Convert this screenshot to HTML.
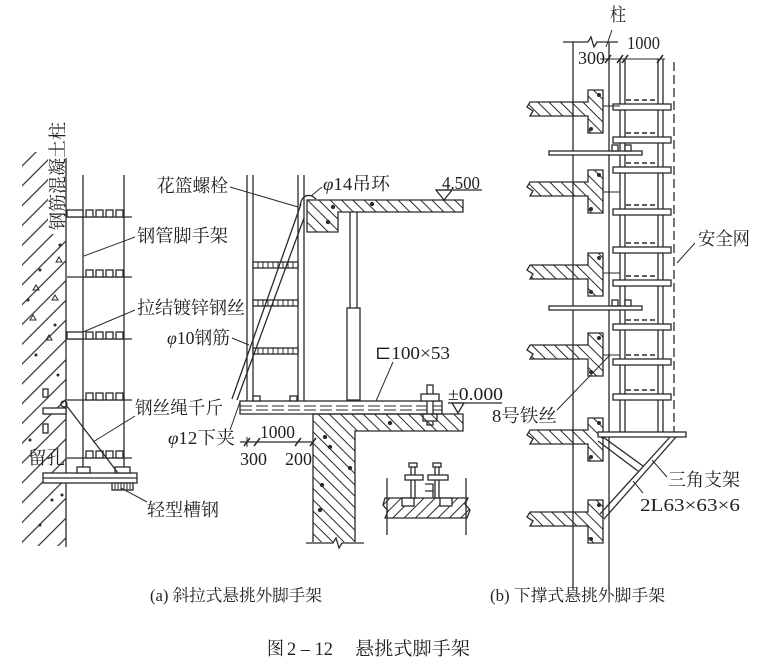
<!DOCTYPE html>
<html><head><meta charset="utf-8">
<style>
html,body{margin:0;padding:0;background:#fff;}
svg{display:block;}
text{font-family:"Liberation Serif","Noto Serif CJK SC","Noto Sans CJK SC","DejaVu Serif",serif;fill:#222;}
</style></head><body>
<svg width="766" height="670" viewBox="0 0 766 670" xmlns="http://www.w3.org/2000/svg">
<defs>
<pattern id="hA" width="14" height="14" patternUnits="userSpaceOnUse" patternTransform="rotate(45)"><line x1="7" y1="0" x2="7" y2="14" stroke="#2a2a2a" stroke-width="1.2"/></pattern>
<pattern id="hB" width="8" height="8" patternUnits="userSpaceOnUse" patternTransform="rotate(-45)"><line x1="4" y1="0" x2="4" y2="8" stroke="#2a2a2a" stroke-width="1"/></pattern>
<pattern id="hC" width="8" height="8" patternUnits="userSpaceOnUse" patternTransform="rotate(45)"><line x1="4" y1="0" x2="4" y2="8" stroke="#2a2a2a" stroke-width="1"/></pattern>
</defs>

<g stroke="#2a2a2a" stroke-width="1.3" fill="none">
<!-- ===== (a) left wall ===== -->
<rect x="22" y="152" width="44" height="394" fill="url(#hA)" stroke="none"/>
<rect x="48" y="118" width="18" height="116" fill="#fff" stroke="none"/>
<line x1="66" y1="158" x2="66" y2="547"/>
<g stroke-width="1" fill="none">
<path d="M33,290 l3,-5 l3,5 z M52,300 l3,-5 l3,5 z M30,320 l3,-5 l3,5 z M46,340 l3,-5 l3,5 z M56,262 l3,-5 l3,5 z"/>
<circle cx="40" cy="270" r="1" fill="#2a2a2a"/><circle cx="28" cy="300" r="1" fill="#2a2a2a"/>
<circle cx="55" cy="325" r="1" fill="#2a2a2a"/><circle cx="36" cy="355" r="1" fill="#2a2a2a"/>
<circle cx="58" cy="375" r="1" fill="#2a2a2a"/><circle cx="30" cy="440" r="1" fill="#2a2a2a"/>
<circle cx="52" cy="500" r="1" fill="#2a2a2a"/><circle cx="40" cy="525" r="1" fill="#2a2a2a"/>
<circle cx="62" cy="495" r="1" fill="#2a2a2a"/><circle cx="60" cy="245" r="1" fill="#2a2a2a"/>
</g>
<rect x="43" y="389" width="5" height="8" fill="#fff"/>
<rect x="43" y="424" width="5" height="9" fill="#fff"/>

<!-- scaffold left -->
<line x1="83" y1="175" x2="83" y2="473"/>
<line x1="124" y1="175" x2="124" y2="473"/>
<g fill="#fff">
<line x1="67" y1="217" x2="132" y2="217"/><rect x="67" y="210" width="16" height="7"/>
<rect x="86" y="210" width="7" height="7"/><rect x="96" y="210" width="7" height="7"/><rect x="106" y="210" width="7" height="7"/><rect x="116" y="210" width="7" height="7"/>
<line x1="67" y1="277" x2="132" y2="277"/>
<rect x="86" y="270" width="7" height="7"/><rect x="96" y="270" width="7" height="7"/><rect x="106" y="270" width="7" height="7"/><rect x="116" y="270" width="7" height="7"/>
<line x1="67" y1="339" x2="132" y2="339"/><rect x="67" y="332" width="16" height="7"/>
<rect x="86" y="332" width="7" height="7"/><rect x="96" y="332" width="7" height="7"/><rect x="106" y="332" width="7" height="7"/><rect x="116" y="332" width="7" height="7"/>
<line x1="67" y1="400" x2="132" y2="400"/>
<rect x="86" y="393" width="7" height="7"/><rect x="96" y="393" width="7" height="7"/><rect x="106" y="393" width="7" height="7"/><rect x="116" y="393" width="7" height="7"/>
<line x1="67" y1="458" x2="132" y2="458"/>
<rect x="86" y="451" width="7" height="7"/><rect x="96" y="451" width="7" height="7"/><rect x="106" y="451" width="7" height="7"/><rect x="116" y="451" width="7" height="7"/>
</g>
<rect x="43" y="473" width="94" height="10" fill="#fff"/>
<line x1="43" y1="478" x2="137" y2="478"/>
<rect x="77" y="467" width="13" height="6" fill="#fff"/>
<rect x="115" y="467" width="15" height="6" fill="#fff"/>
<rect x="112" y="483" width="21" height="7" fill="#fff"/>
<path d="M115,483v7M118,483v7M121,483v7M124,483v7M127,483v7M130,483v7" stroke-width="1"/>
<line x1="66" y1="405" x2="118" y2="473"/>
<rect x="43" y="408" width="23" height="6" fill="#fff"/>
<circle cx="64" cy="404" r="3"/>

<!-- ===== (a) middle ===== -->
<line x1="247" y1="175" x2="247" y2="401"/><line x1="253" y1="175" x2="253" y2="401"/>
<line x1="298" y1="175" x2="298" y2="401"/><line x1="304" y1="175" x2="304" y2="401"/>
<g fill="#fff">
<rect x="253" y="262" width="45" height="6"/><rect x="253" y="300" width="45" height="6"/><rect x="253" y="348" width="45" height="6"/>
</g>
<path d="M258,262v6M263,262v6M268,262v6M273,262v6M278,262v6M283,262v6M288,262v6M293,262v6 M258,300v6M263,300v6M268,300v6M273,300v6M278,300v6M283,300v6M288,300v6M293,300v6 M258,348v6M263,348v6M268,348v6M273,348v6M278,348v6M283,348v6M288,348v6M293,348v6" stroke-width="1"/>

<polygon points="307,200 463,200 463,212 338,212 338,232 307,232" fill="url(#hB)"/>
<circle cx="333" cy="207" r="1.5" fill="#2a2a2a"/><circle cx="372" cy="204" r="1.5" fill="#2a2a2a"/><circle cx="328" cy="222" r="1.5" fill="#2a2a2a"/>
<line x1="350" y1="212" x2="350" y2="308"/><line x1="357" y1="212" x2="357" y2="308"/>
<rect x="347" y="308" width="13" height="92" fill="#fff"/>
<path d="M300,206 Q302,193 312,196 L316,199"/>
<line x1="232" y1="399" x2="301" y2="204"/>
<line x1="237" y1="400" x2="304" y2="218"/>

<rect x="240" y="401" width="202" height="13" fill="#fff"/>
<line x1="240" y1="406" x2="442" y2="406" stroke-dasharray="12 4" stroke-width="1"/>
<line x1="240" y1="410" x2="442" y2="410" stroke-dasharray="12 4" stroke-width="1"/>
<rect x="253" y="396" width="7" height="5" fill="#fff"/><rect x="290" y="396" width="7" height="5" fill="#fff"/>
<rect x="427" y="385" width="6" height="40" fill="#fff"/>
<rect x="421" y="394" width="18" height="7" fill="#fff"/>
<rect x="423" y="414" width="14" height="7" fill="#fff"/>

<polygon points="313,414 463,414 463,431 355,431 355,543 313,543" fill="url(#hB)"/>
<rect x="312" y="542" width="44" height="3" fill="#fff" stroke="none"/>
<path d="M306,543 H333 L336,538 L339,548 L342,543 H364"/>
<circle cx="325" cy="437" r="1.5" fill="#2a2a2a"/><circle cx="330" cy="447" r="1.5" fill="#2a2a2a"/>
<circle cx="350" cy="468" r="1.5" fill="#2a2a2a"/><circle cx="322" cy="485" r="1.5" fill="#2a2a2a"/>
<circle cx="320" cy="510" r="1.5" fill="#2a2a2a"/><circle cx="390" cy="423" r="1.5" fill="#2a2a2a"/>

<line x1="448" y1="403" x2="502" y2="403"/>
<path d="M452,403 L464,403 L458,413 Z"/>
<line x1="436" y1="190" x2="482" y2="190"/>
<path d="M436,190 L452,190 L444,200 Z"/>

<line x1="240" y1="442" x2="313" y2="442"/>
<path d="M244,446 L250,438 M254,446 L260,438 M295,446 L301,438 M310,446 L316,438" stroke-width="1.5"/>
<line x1="247" y1="437" x2="247" y2="447" stroke-width="1"/>
<line x1="313" y1="435" x2="313" y2="449" stroke-width="1"/>

<!-- inset -->
<line x1="387" y1="478" x2="387" y2="535"/><line x1="466" y1="478" x2="466" y2="535"/>
<polygon points="385,498 468,498 465,504 470,510 467,518 385,518 388,511 383,505" fill="url(#hC)"/>
<rect x="402" y="498" width="12" height="8" fill="#fff"/><rect x="440" y="498" width="12" height="8" fill="#fff"/>
<rect x="411" y="465" width="4" height="33" fill="#fff"/><rect x="405" y="475" width="18" height="5" fill="#fff"/><rect x="409" y="463" width="8" height="4" fill="#fff"/>
<rect x="435" y="465" width="4" height="33" fill="#fff"/><rect x="428" y="475" width="20" height="5" fill="#fff"/><rect x="433" y="463" width="8" height="4" fill="#fff"/>
<path d="M425,484 H433 V498 M425,491 H433"/>

<!-- ===== (b) right ===== -->
<line x1="573" y1="42" x2="573" y2="590"/>
<line x1="609" y1="42" x2="609" y2="590"/>
<path d="M563,42 H588 L591,37 L594,47 L597,42 H618"/>
<line x1="612" y1="30" x2="606" y2="47" stroke-width="1"/>
<line x1="600" y1="59" x2="665" y2="59" stroke-width="1"/>
<path d="M605,63 L611,55 M617,63 L623,55 M622,63 L628,55 M657,63 L663,55" stroke-width="1.5"/>

<line x1="620" y1="59" x2="620" y2="433"/><line x1="625" y1="59" x2="625" y2="433"/>
<line x1="658" y1="59" x2="658" y2="433"/><line x1="663" y1="59" x2="663" y2="433"/>
<line x1="674" y1="62" x2="674" y2="433" stroke-dasharray="9 4"/>

<g fill="#fff">
<rect x="613" y="104" width="58" height="6"/><rect x="613" y="137" width="58" height="6"/>
<rect x="613" y="167" width="58" height="6"/><rect x="613" y="209" width="58" height="6"/>
<rect x="613" y="247" width="58" height="6"/><rect x="613" y="280" width="58" height="6"/>
<rect x="613" y="324" width="58" height="6"/><rect x="613" y="359" width="58" height="6"/>
<rect x="613" y="394" width="58" height="6"/>
</g>
<g stroke-dasharray="5 3" stroke-width="1.4">
<line x1="626" y1="100" x2="657" y2="100"/><line x1="626" y1="133" x2="657" y2="133"/>
<line x1="626" y1="163" x2="657" y2="163"/><line x1="626" y1="205" x2="657" y2="205"/>
<line x1="626" y1="243" x2="657" y2="243"/><line x1="626" y1="276" x2="657" y2="276"/>
<line x1="626" y1="320" x2="657" y2="320"/><line x1="626" y1="355" x2="657" y2="355"/>
<line x1="626" y1="390" x2="657" y2="390"/>
</g>

<g fill="url(#hB)">
<polygon points="530,102 588,102 588,90 603,90 603,133 588,133 588,116 530,116 533,111 527,107"/>
<polygon points="530,182 588,182 588,170 603,170 603,213 588,213 588,196 530,196 533,191 527,187"/>
<polygon points="530,265 588,265 588,253 603,253 603,296 588,296 588,279 530,279 533,274 527,270"/>
<polygon points="530,345 588,345 588,333 603,333 603,376 588,376 588,359 530,359 533,354 527,350"/>
<polygon points="530,430 588,430 588,418 603,418 603,461 588,461 588,444 530,444 533,439 527,435"/>
<polygon points="530,512 588,512 588,500 603,500 603,543 588,543 588,526 530,526 533,521 527,517"/>
</g>
<g fill="#2a2a2a" stroke="none">
<circle cx="599" cy="95" r="2"/><circle cx="591" cy="129" r="2"/>
<circle cx="599" cy="175" r="2"/><circle cx="591" cy="209" r="2"/>
<circle cx="599" cy="258" r="2"/><circle cx="591" cy="292" r="2"/>
<circle cx="599" cy="338" r="2"/><circle cx="591" cy="372" r="2"/>
<circle cx="599" cy="423" r="2"/><circle cx="591" cy="457" r="2"/>
<circle cx="599" cy="505" r="2"/><circle cx="591" cy="539" r="2"/>
</g>
<path d="M603,106 H620 M603,192 H620 M603,273 H620 M603,355 H620" stroke-width="1"/>

<rect x="549" y="151" width="93" height="4" fill="#fff"/>
<rect x="549" y="306" width="93" height="4" fill="#fff"/>
<rect x="612" y="145" width="6" height="6" fill="#fff"/><rect x="625" y="145" width="6" height="6" fill="#fff"/>
<rect x="612" y="300" width="6" height="6" fill="#fff"/><rect x="625" y="300" width="6" height="6" fill="#fff"/>

<rect x="598" y="432" width="88" height="5" fill="#fff"/>
<line x1="603" y1="437" x2="643" y2="466"/><line x1="598" y1="441" x2="638" y2="471"/>
<line x1="670" y1="437" x2="600" y2="514"/><line x1="676" y1="437" x2="604" y2="519"/>

<!-- leaders -->
<g stroke-width="1">
<line x1="135" y1="237" x2="84" y2="256"/>
<line x1="135" y1="310" x2="83" y2="332"/>
<line x1="135" y1="416" x2="93" y2="442"/>
<line x1="147" y1="502" x2="121" y2="488"/>
<line x1="230" y1="187" x2="298" y2="207"/>
<line x1="322" y1="187" x2="311" y2="196"/>
<line x1="232" y1="338" x2="249" y2="345"/>
<line x1="393" y1="362" x2="376" y2="401"/>
<line x1="230" y1="430" x2="240" y2="402"/>
<line x1="557" y1="410" x2="610" y2="355"/>
<line x1="695" y1="243" x2="677" y2="263"/>
<line x1="667" y1="477" x2="652" y2="460"/>
<line x1="643" y1="493" x2="633" y2="481"/>
</g>
</g>

<!-- ===== text ===== -->
<g font-size="18">
<text x="58" y="182" text-anchor="middle" transform="rotate(-90 58 176)" textLength="108" lengthAdjust="spacingAndGlyphs">钢筋混凝土柱</text>
<text x="137" y="242" textLength="91" lengthAdjust="spacingAndGlyphs">钢管脚手架</text>
<text x="137" y="314" textLength="108" lengthAdjust="spacingAndGlyphs">拉结镀锌钢丝</text>
<text x="135" y="414" textLength="88" lengthAdjust="spacingAndGlyphs">钢丝绳千斤</text>
<text x="28" y="464" textLength="37" lengthAdjust="spacingAndGlyphs">留孔</text>
<text x="147" y="516" textLength="72" lengthAdjust="spacingAndGlyphs">轻型槽钢</text>
<text x="157" y="192" textLength="71" lengthAdjust="spacingAndGlyphs">花篮螺栓</text>
<text x="323" y="190" textLength="67" lengthAdjust="spacingAndGlyphs"><tspan font-style="italic">φ</tspan>14吊环</text>
<text x="442" y="189" textLength="38" lengthAdjust="spacingAndGlyphs">4.500</text>
<text x="167" y="344" textLength="63" lengthAdjust="spacingAndGlyphs"><tspan font-style="italic">φ</tspan>10钢筋</text>
<text x="375" y="359" textLength="75" lengthAdjust="spacingAndGlyphs">⊏100×53</text>
<text x="448" y="400" textLength="55" lengthAdjust="spacingAndGlyphs">±0.000</text>
<text x="492" y="422" textLength="65" lengthAdjust="spacingAndGlyphs">8号铁丝</text>
<text x="168" y="444" textLength="67" lengthAdjust="spacingAndGlyphs"><tspan font-style="italic">φ</tspan>12下夹</text>
<text x="260" y="438" textLength="35" lengthAdjust="spacingAndGlyphs">1000</text>
<text x="240" y="465" textLength="27" lengthAdjust="spacingAndGlyphs">300</text>
<text x="285" y="465" textLength="27" lengthAdjust="spacingAndGlyphs">200</text>
<text x="610" y="21" textLength="16" lengthAdjust="spacingAndGlyphs">柱</text>
<text x="578" y="64" textLength="27" lengthAdjust="spacingAndGlyphs">300</text>
<text x="627" y="49" textLength="33" lengthAdjust="spacingAndGlyphs">1000</text>
<text x="698" y="245" textLength="52" lengthAdjust="spacingAndGlyphs">安全网</text>
<text x="668" y="486" textLength="72" lengthAdjust="spacingAndGlyphs">三角支架</text>
<text x="640" y="511" textLength="100" lengthAdjust="spacingAndGlyphs">2L63×63×6</text>
</g>
<g font-size="16.5">
<text x="150" y="601" textLength="172" lengthAdjust="spacingAndGlyphs">(a) 斜拉式悬挑外脚手架</text>
<text x="490" y="601" textLength="175" lengthAdjust="spacingAndGlyphs">(b) 下撑式悬挑外脚手架</text>
</g>
<g font-size="18.5">
<text x="267" y="655" textLength="17" lengthAdjust="spacingAndGlyphs">图</text>
<text x="287" y="655" textLength="46" lengthAdjust="spacingAndGlyphs">2 – 12</text>
<text x="355" y="655" textLength="115" lengthAdjust="spacingAndGlyphs">悬挑式脚手架</text>
</g>
</svg>
</body></html>
